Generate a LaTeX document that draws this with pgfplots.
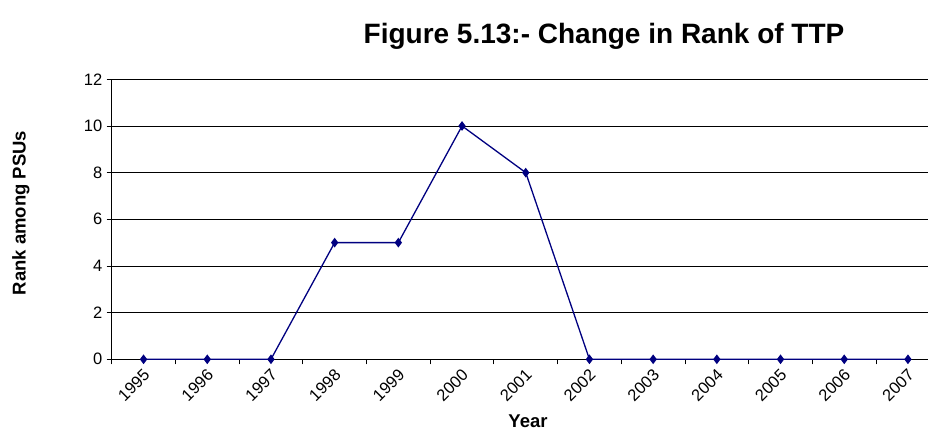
\documentclass[border=0pt]{standalone}
\usepackage{pgfplots}
\pgfplotsset{compat=1.18}
\usepackage{fontspec}
\setmainfont{Liberation Sans}
\definecolor{rankline}{RGB}{0,0,128}

\begin{document}
\begin{tikzpicture}
\useasboundingbox (0,0) rectangle (928bp,432bp);
\begin{axis}[
  at={(111.7bp,72.7bp)}, anchor=south west,
  scale only axis,
  width=816.3bp, height=280bp,
  xmin=-0.5, xmax=12.315,
  ymin=0, ymax=12,
  axis x line=bottom, axis y line=left,
  axis line style={-, black, line width=0.8bp},
  xtick={0,...,12},
  xticklabels={1995,1996,1997,1998,1999,2000,2001,2002,2003,2004,2005,2006,2007},
  minor xtick={-0.5,0.5,...,12.5},
  ytick={0,2,...,12},
  tick align=outside,
  x tick style={draw=none},
  minor x tick style={draw=black, line width=0.8bp},
  minor tick length=5bp,
  y tick style={black, line width=0.8bp},
  major tick length=5bp,
  ymajorgrids,
  major grid style={black, line width=0.8bp},
  /pgf/number format/assume math mode=true,
  ticklabel style={font=\fontsize{16.5bp}{18bp}\selectfont},
  x tick label style={rotate=45, anchor=east, xshift=0bp, yshift=-8bp},
  y tick label style={xshift=-1bp},
  clip=true,
]
\addplot[rankline, line width=1.3bp, mark=diamond*,
  mark options={fill=rankline, draw=rankline, scale=1.0}, mark size=3.8bp]
  coordinates {
  (0,0) (1,0) (2,0) (3,5) (4,5) (5,10) (6,8)
  (7,0) (8,0) (9,0) (10,0) (11,0) (12,0)
  };
\end{axis}
\node[font=\fontsize{28bp}{32bp}\selectfont\bfseries] at (604bp,396bp)
  {Figure 5.13:- Change in Rank of TTP};
\node[font=\fontsize{18.5bp}{22bp}\selectfont\bfseries, rotate=90] at (21bp,219bp)
  {Rank among PSUs};
\node[font=\fontsize{18.5bp}{22bp}\selectfont\bfseries] at (528bp,11bp) {Year};
\end{tikzpicture}
\end{document}
